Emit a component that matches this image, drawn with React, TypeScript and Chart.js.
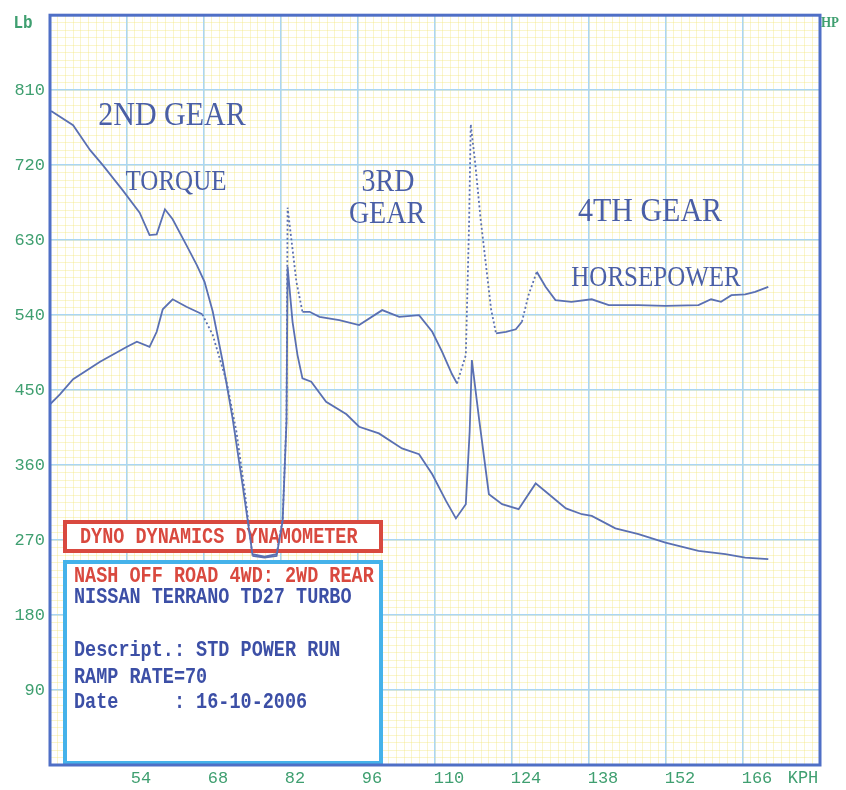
import React, { useEffect, useRef } from "react";
import { Chart, registerables } from "chart.js";

Chart.register(...registerables);

// ---- data ----
const torqueKph = [40.2, 44.2, 47.3, 49.6, 53.2, 56.3, 58.1, 59.4, 60.9, 62.3, 64.8, 66.7, 68.1, 69.6, 71.4, 73.2, 75.0, 76.3, 76.8, 79.0, 81.2, 82.3, 83.0, 83.2, 84.8, 85.9, 87.2, 89.0, 92.6, 96.2, 100.4, 103.5, 107.1, 109.5, 111.3, 113.1, 114.0, 115.6, 116.2, 116.5, 117.3, 118.3, 120.2, 121.1, 122.9, 124.7, 125.8, 127.0, 128.5, 130.1, 131.9, 134.8, 138.5, 141.6, 147.0, 151.9, 157.9, 160.2, 162.0, 163.9, 166.4, 168.2, 170.6];
const torqueLb = [785, 768, 738, 720, 690, 663, 636, 637, 667, 655, 624, 600, 580, 544, 484, 416, 337, 277, 253, 250, 253, 296, 416, 669, 580, 544, 544, 538, 534, 528, 546, 538, 540, 520, 496, 469, 458, 492, 651, 769, 723, 655, 547, 518, 520, 523, 532, 564, 592, 574, 558, 556, 559, 552, 552, 551, 552, 559, 556, 564, 565, 568, 574];

const hpKph = [40.0, 41.8, 44.2, 49.1, 54.0, 55.8, 58.1, 59.4, 60.5, 62.3, 64.8, 67.7, 69.6, 72.1, 73.9, 75.4, 76.8, 79.0, 81.2, 82.3, 83.0, 83.2, 84.1, 85.0, 85.9, 87.5, 90.2, 93.9, 96.2, 99.8, 104.0, 107.1, 109.5, 112.0, 113.8, 115.6, 116.3, 116.7, 118.0, 119.8, 122.2, 125.2, 128.3, 130.7, 133.8, 136.7, 138.5, 142.8, 147.0, 151.9, 157.9, 162.8, 166.4, 170.6];
const hpVal = [433, 445, 463, 484, 502, 508, 502, 520, 547, 559, 550, 541, 516, 460, 400, 329, 251, 249, 251, 293, 412, 598, 532, 492, 464, 460, 436, 421, 406, 398, 380, 373, 349, 317, 296, 313, 400, 486, 416, 325, 313, 307, 338, 325, 308, 301, 299, 284, 277, 267, 257, 253, 249, 247];

// dotted (gear-change) stretches, in KPH
const torqueDotted = [[81.2, 85.9], [114.0, 121.1], [125.8, 128.5]];
const hpDotted = [[67.7, 76.8]];

const xTickValues = [40, 54, 68, 82, 96, 110, 124, 138, 152, 166, 180];
const yTickValues = [0, 90, 180, 270, 360, 450, 540, 630, 720, 810, 900];
const X_MIN = 40, X_MAX = 180, Y_MIN = 0, Y_MAX = 900;

const infoTitle = "DYNO DYNAMICS DYNAMOMETER";
const infoLines = [
  { text: "NASH OFF ROAD 4WD: 2WD REAR", red: true },
  { text: "NISSAN TERRANO TD27 TURBO", red: false },
  { text: "", red: false },
  { text: "Descript.: STD POWER RUN", red: false },
  { text: "RAMP RATE=70", red: false },
  { text: "Date     : 16-10-2006", red: false },
];

const gearLabels = [
  { text: "2ND GEAR", x: 172, y: 116, size: 30 },
  { text: "TORQUE", x: 176, y: 182, size: 25 },
  { text: "3RD", x: 388, y: 183, size: 28 },
  { text: "GEAR", x: 387, y: 215, size: 28 },
  { text: "4TH GEAR", x: 650, y: 212, size: 30 },
  { text: "HORSEPOWER", x: 656, y: 278, size: 25 },
];

const GREEN = "#3f9f70";
const CURVE = "#5a70b2";
const LABEL_BLUE = "#4a5fa6";
const BOX_RED = "#d9493f";
const BOX_BLUE = "#45b2ea";
const TEXT_BLUE = "#3c4fa6";
const MINOR = "rgba(242,228,120,0.38)";
const MAJOR = "#aad6f4";
const MONO = '"Liberation Mono", "DejaVu Sans Mono", monospace';
const SERIF = '"Liberation Serif", "DejaVu Serif", serif';

function stretchedText(ctx: CanvasRenderingContext2D, text: string, x: number, y: number, font: string, color: string, align: CanvasTextAlign, sy: number) {
  ctx.save();
  ctx.translate(x, y);
  ctx.scale(1, sy);
  ctx.font = font;
  ctx.fillStyle = color;
  ctx.textAlign = align;
  ctx.textBaseline = "middle";
  ctx.fillText(text, 0, 0);
  ctx.restore();
}

const dashFor = (ranges: number[][]) => (ctx: any) => {
  const a = ctx.p0.parsed.x;
  const b = ctx.p1.parsed.x;
  return ranges.some(([s, e]) => a >= s - 1e-6 && b <= e + 1e-6) ? [2, 2.5] : undefined;
};

const overlayPlugin = {
  id: "dynoOverlay",
  beforeDatasetsDraw(chart: any) {
    const ctx: CanvasRenderingContext2D = chart.ctx;
    gearLabels.forEach((g) => {
      stretchedText(ctx, g.text, g.x, g.y, `${g.size}px ${SERIF}`, LABEL_BLUE, "center", 1.15);
    });
    const left = 65, right = 381;
    ctx.save();
    ctx.fillStyle = "#ffffff";
    ctx.fillRect(left, 522, right - left, 29);
    ctx.fillRect(left, 562, right - left, 201);
    ctx.lineWidth = 4;
    ctx.strokeStyle = BOX_RED;
    ctx.strokeRect(left, 522, right - left, 29);
    ctx.strokeStyle = BOX_BLUE;
    ctx.strokeRect(left, 562, right - left, 201);
    ctx.restore();
    const boxFont = `bold 18.5px ${MONO}`;
    stretchedText(ctx, infoTitle, 80, 537, boxFont, BOX_RED, "left", 1.2);
    const ys = [576, 597, 623, 650, 677, 702];
    infoLines.forEach((l, i) => {
      if (l.text) stretchedText(ctx, l.text, 74, ys[i], boxFont, l.red ? BOX_RED : TEXT_BLUE, "left", 1.2);
    });
  },
  afterDraw(chart: any) {
    const ctx: CanvasRenderingContext2D = chart.ctx;
    const a = chart.chartArea;
    ctx.save();
    ctx.strokeStyle = "#4f6fc6";
    ctx.lineWidth = 3;
    ctx.strokeRect(a.left, a.top, a.right - a.left, a.bottom - a.top);
    ctx.restore();
    stretchedText(ctx, "Lb", 23, 24, `bold 16px ${MONO}`, GREEN, "center", 1.1);
    stretchedText(ctx, "HP", 830, 23, `bold 13px ${SERIF}`, GREEN, "center", 1.1);
    stretchedText(ctx, "KPH", 803, 778, `17px ${MONO}`, GREEN, "center", 1.1);
  },
};

export default function App() {
  const ref = useRef<HTMLCanvasElement | null>(null);

  useEffect(() => {
    document.body.style.margin = "0";
    if (!ref.current) return;
    const tickFont = { family: MONO, size: 17 };
    const chart = new Chart(ref.current, {
      type: "line",
      data: {
        datasets: [
          {
            label: "Torque",
            data: torqueKph.map((x, i) => ({ x, y: torqueLb[i] })),
            borderColor: CURVE,
            borderWidth: 1.8,
            pointRadius: 0,
            tension: 0,
            xAxisID: "x",
            yAxisID: "y",
            segment: { borderDash: dashFor(torqueDotted) },
          },
          {
            label: "Horsepower",
            data: hpKph.map((x, i) => ({ x, y: hpVal[i] })),
            borderColor: CURVE,
            borderWidth: 1.8,
            pointRadius: 0,
            tension: 0,
            xAxisID: "x",
            yAxisID: "y",
            segment: { borderDash: dashFor(hpDotted) },
          },
        ],
      },
      options: {
        responsive: false,
        animation: false,
        layout: { padding: { top: 12, right: 26, left: 0, bottom: 0 } },
        plugins: { legend: { display: false }, tooltip: { enabled: false } },
        events: [],
        scales: {
          xMinor: {
            type: "linear",
            position: "bottom",
            min: X_MIN,
            max: X_MAX,
            z: -1,
            afterBuildTicks: (s: any) => {
              s.ticks = Array.from({ length: 101 }, (_, i) => ({ value: X_MIN + i * 1.4 }));
            },
            ticks: { display: false },
            grid: { color: MINOR, lineWidth: 1, drawTicks: false },
            border: { display: false },
            afterFit: (s: any) => { s.height = 0; },
          },
          yMinor: {
            type: "linear",
            position: "left",
            min: Y_MIN,
            max: Y_MAX,
            z: -1,
            afterBuildTicks: (s: any) => {
              s.ticks = Array.from({ length: 101 }, (_, i) => ({ value: Y_MIN + i * 9 }));
            },
            ticks: { display: false },
            grid: { color: MINOR, lineWidth: 1, drawTicks: false },
            border: { display: false },
            afterFit: (s: any) => { s.width = 0; },
          },
          x: {
            type: "linear",
            position: "bottom",
            min: X_MIN,
            max: X_MAX,
            afterBuildTicks: (s: any) => {
              s.ticks = xTickValues.map((v) => ({ value: v }));
            },
            ticks: {
              autoSkip: false,
              maxRotation: 0,
              padding: 3,
              labelOffset: 14,
              color: GREEN,
              font: tickFont,
              callback: (v: any) => (v === X_MIN || v === X_MAX ? "" : String(v)),
            },
            grid: { color: MAJOR, lineWidth: 1.5, drawTicks: false },
            border: { display: false },
            afterFit: (s: any) => { s.height = 25; },
          },
          y: {
            type: "linear",
            position: "left",
            min: Y_MIN,
            max: Y_MAX,
            afterBuildTicks: (s: any) => {
              s.ticks = yTickValues.map((v) => ({ value: v }));
            },
            ticks: {
              autoSkip: false,
              padding: 5,
              color: GREEN,
              font: tickFont,
              callback: (v: any) => (v === Y_MIN || v === Y_MAX ? "" : String(v)),
            },
            grid: { color: MAJOR, lineWidth: 1.5, drawTicks: false },
            border: { display: false },
            afterFit: (s: any) => { s.width = 50; },
          },
        },
      } as any,
      plugins: [overlayPlugin],
    });
    return () => chart.destroy();
  }, []);

  return (
    <div style={{ width: 846, height: 790, background: "#ffffff" }}>
      <canvas ref={ref} width={846} height={790} style={{ display: "block" }} />
    </div>
  );
}
